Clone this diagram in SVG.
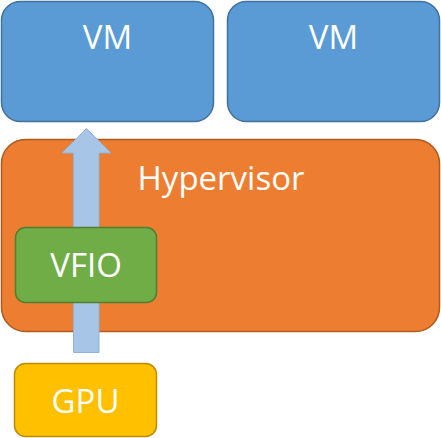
<svg xmlns="http://www.w3.org/2000/svg" width="441" height="438" viewBox="0 0 441 438">
<style>
text{font-family:"Open Sans","Noto Sans",sans-serif;font-size:33px;fill:#fff;text-anchor:middle}
.vm{fill:#5B9BD5;stroke:#41719C;stroke-width:1.5}
.hv{fill:#ED7D31;stroke:#AE5A21;stroke-width:1.5}
.vf{fill:#70AD47;stroke:#507E32;stroke-width:1.5}
.gpu{fill:#FFC000;stroke:#BC8C00;stroke-width:1.5}
.arrow{fill:#A6C5E7;stroke:#8EB3DD;stroke-width:1}
</style>
<rect width="441" height="438" fill="#fff"/>
<g id="vm1"><rect class="vm" x="1.5" y="1.5" width="212" height="120" rx="19"/><text x="107.5" y="49">VM</text></g>
<g id="vm2"><rect class="vm" x="227.5" y="1.5" width="212" height="120" rx="19"/><text x="333.5" y="49">VM</text></g>
<g id="hypervisor"><rect class="hv" x="1.5" y="139.5" width="438" height="192" rx="24"/><text x="221" y="190">Hypervisor</text></g>
<g id="connectors"><path class="arrow" d="M73.5,352.5 V153 H62 L86.5,128.5 L111,153 H99 V352.5 Z"/></g>
<g id="vfio"><rect class="vf" x="15.5" y="227.5" width="141" height="75" rx="10"/><text x="86" y="277">VFIO</text></g>
<g id="gpu"><rect class="gpu" x="14.5" y="363.5" width="142" height="73" rx="11"/><text x="85.5" y="413">GPU</text></g>
</svg>
